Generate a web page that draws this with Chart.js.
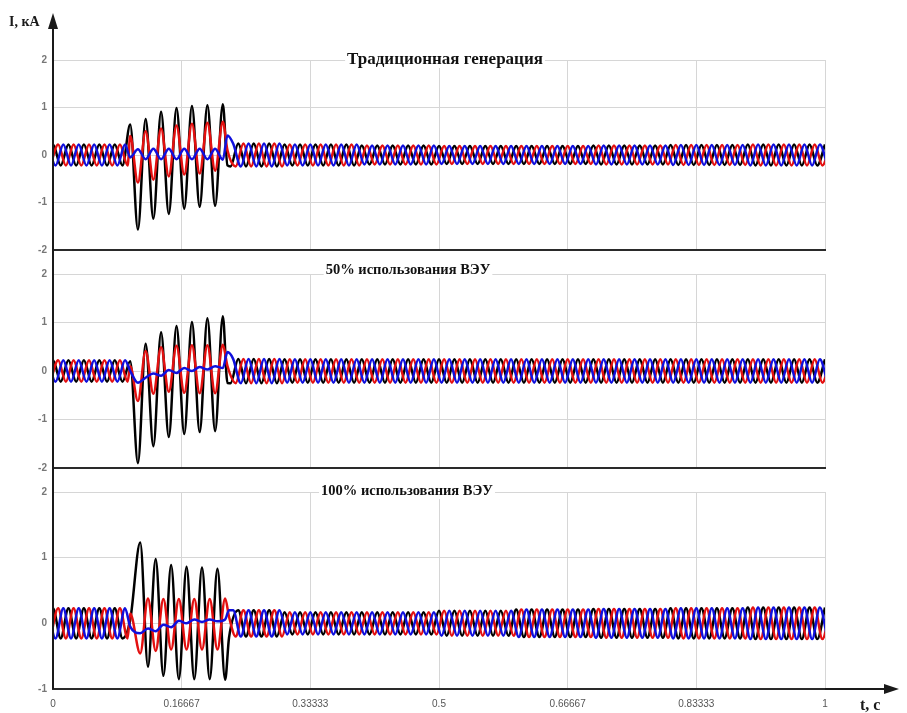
<!DOCTYPE html>
<html>
<head>
<meta charset="utf-8">
<script src="https://cdn.jsdelivr.net/npm/chart.js@4.4.1/dist/chart.umd.min.js"></script>
<style>
    html, body { margin: 0; padding: 0; background: #fff; }
    #wrap { position: relative; width: 907px; height: 713px; overflow: hidden; }
    #wrap canvas { position: absolute; left: 0; }
</style>
</head>
<body>
<div id="wrap">
    <canvas id="panel1" width="907" height="262" style="top:0px;width:907px;height:262px"></canvas>
    <canvas id="panel2" width="907" height="218" style="top:262px;width:907px;height:218px"></canvas>
    <canvas id="panel3" width="907" height="233" style="top:480px;width:907px;height:233px"></canvas>
</div>
<script>
// time axis, s
const timeTicks = [0, 1 / 6, 1 / 3, 0.5, 2 / 3, 5 / 6, 1];
const timeTickLabels = ['0', '0.16667', '0.33333', '0.5', '0.66667', '0.83333', '1'];

// steady-state current amplitude (kA) in each 0.1 s interval
const steadyAmp1 = [0.22, 0.22, 0.24, 0.22, 0.20, 0.19, 0.19, 0.20, 0.21, 0.22];
const steadyAmp2 = [0.22, 0.22, 0.25, 0.24, 0.24, 0.24, 0.24, 0.24, 0.24, 0.24];
const steadyAmp3 = [0.23, 0.23, 0.20, 0.17, 0.17, 0.19, 0.21, 0.22, 0.23, 0.24];

// fault interval: extremum times (s) and phase currents at them (kA)
const faultTime1 = [0.1, 0.11, 0.12, 0.13, 0.14, 0.15, 0.16, 0.17, 0.18, 0.19, 0.20, 0.21, 0.22, 0.226];
const faultA1 = [0.64, -1.57, 0.76, -1.34, 0.91, -1.24, 0.99, -1.13, 1.03, -1.09, 1.05, -1.07, 1.07, -0.22];
const faultB1 = [0.40, -0.58, 0.50, -0.52, 0.56, -0.45, 0.62, -0.41, 0.66, -0.39, 0.68, -0.33, 0.70, 0.10];
const faultC1 = [-0.05, 0.12, -0.09, 0.13, -0.09, 0.13, -0.09, 0.13, -0.09, 0.13, -0.09, 0.13, -0.10, 0.41];

const faultTime2 = [0.1, 0.11, 0.12, 0.13, 0.14, 0.15, 0.16, 0.17, 0.18, 0.19, 0.20, 0.21, 0.22, 0.226];
const faultA2 = [0.20, -1.90, 0.56, -1.55, 0.80, -1.36, 0.93, -1.30, 1.01, -1.26, 1.09, -1.24, 1.13, -0.25];
const faultB2 = [0.10, -0.62, 0.41, -0.47, 0.49, -0.43, 0.52, -0.45, 0.53, -0.46, 0.53, -0.46, 0.54, 0.10];
const faultC2 = [0.00, -0.24, -0.14, -0.05, -0.10, 0.02, -0.04, 0.06, 0.00, 0.08, 0.03, 0.10, 0.06, 0.39];

const faultTime3 = [0.1, 0.113, 0.123, 0.133, 0.143, 0.153, 0.163, 0.173, 0.183, 0.193, 0.203, 0.213, 0.223, 0.228];
const faultA3 = [0.05, 1.23, -0.66, 0.98, -0.80, 0.89, -0.85, 0.86, -0.85, 0.85, -0.85, 0.83, -0.86, -0.22];
const faultB3 = [0.15, -0.46, 0.38, -0.42, 0.37, -0.40, 0.37, -0.40, 0.37, -0.40, 0.37, -0.40, 0.38, 0.10];
const faultC3 = [-0.05, -0.15, -0.08, -0.12, -0.02, -0.06, 0.04, 0.00, 0.06, 0.02, 0.06, 0.03, 0.06, 0.20];

const panelTitles = ['Традиционная генерация', '50% использования ВЭУ', '100% использования ВЭУ'];

const HALF_PERIOD = 0.01;                 // 50 Hz
const phaseShift = [0, 0.02 / 3, 0.01 / 3];
const phaseSign = [1, 1, -1];
const phaseColors = ['#000000', '#e31010', '#1010dd'];

// extrema of one phase: steady half-cycles around the fault window, fault extrema inside it
function buildPhase(k, amp, faultTime, faultVals) {
    const from = faultTime[0] - 0.003;
    const to = faultTime[faultTime.length - 1] + 0.003;
    const before = [], after = [];
    for (let n = -1; n <= 100; n++) {
        const t = n * HALF_PERIOD + phaseShift[k];
        const seg = Math.min(amp.length - 1, Math.max(0, Math.floor(t * 10)));
        const y = phaseSign[k] * (n % 2 === 0 ? 1 : -1) * amp[seg];
        if (t <= from) before.push({ x: t, y });
        else if (t >= to) after.push({ x: t, y });
    }
    const fault = faultTime.map((t, i) => ({ x: t, y: faultVals[i] }));
    return before.concat(fault, after);
}

const panelDecor = {
    id: 'panelDecor',
    afterDraw(chart, args, o) {
        const { ctx, chartArea: a } = chart;
        ctx.save();
        ctx.strokeStyle = '#1a1a1a';
        ctx.fillStyle = '#1a1a1a';
        ctx.lineWidth = 2;

        // current axis runs through the whole column of panels
        const top = o.yArrow ? 27 : 0;
        const bottom = o.xArrow ? a.bottom : chart.height;
        ctx.beginPath();
        ctx.moveTo(a.left, top);
        ctx.lineTo(a.left, bottom);
        ctx.stroke();

        if (o.yArrow) {
            ctx.beginPath();
            ctx.moveTo(a.left, 13);
            ctx.lineTo(a.left - 5, 29);
            ctx.lineTo(a.left + 5, 29);
            ctx.closePath();
            ctx.fill();
            ctx.font = 'bold 14px "Liberation Serif"';
            ctx.textAlign = 'left';
            ctx.textBaseline = 'middle';
            ctx.fillText('I, кА', 9, 22);
        }

        if (o.xArrow) {
            ctx.beginPath();
            ctx.moveTo(a.right, a.bottom);
            ctx.lineTo(886, a.bottom);
            ctx.stroke();
            ctx.beginPath();
            ctx.moveTo(899, a.bottom);
            ctx.lineTo(884, a.bottom - 5);
            ctx.lineTo(884, a.bottom + 5);
            ctx.closePath();
            ctx.fill();
            ctx.font = 'bold 16px "Liberation Serif"';
            ctx.textAlign = 'left';
            ctx.textBaseline = 'middle';
            ctx.fillText('t, c', 860, 226);
        }

        // panel caption on a white patch over the top grid line
        ctx.font = 'bold ' + o.titleSize + 'px "Liberation Serif"';
        ctx.textAlign = 'center';
        ctx.textBaseline = 'middle';
        const w = ctx.measureText(o.title).width;
        ctx.fillStyle = '#fff';
        ctx.fillRect(o.titleX - w / 2 - 2, o.titleY - 8, w + 4, 16);
        ctx.fillStyle = '#111';
        ctx.fillText(o.title, o.titleX, o.titleY);
        ctx.restore();
    }
};

function makePanel(id, cfg) {
    const datasets = [cfg.a, cfg.b, cfg.c].map((vals, k) => ({
        data: buildPhase(k, cfg.amp, cfg.faultTime, vals),
        borderColor: phaseColors[k],
        borderWidth: 2.5,
        pointRadius: 0,
        fill: false,
        cubicInterpolationMode: 'monotone',
        order: 2 - k
    }));

    return new Chart(document.getElementById(id), {
        type: 'line',
        data: { datasets },
        plugins: [panelDecor],
        options: {
            responsive: false,
            animation: false,
            events: [],
            layout: { padding: { top: cfg.padTop, right: 82, bottom: 0, left: 0 } },
            plugins: {
                legend: { display: false },
                tooltip: { enabled: false },
                panelDecor: {
                    title: cfg.title, titleX: cfg.titleX, titleY: cfg.titleY, titleSize: cfg.titleSize,
                    yArrow: cfg.yArrow, xArrow: cfg.xArrow
                }
            },
            scales: {
                x: {
                    type: 'linear',
                    min: 0,
                    max: 1,
                    afterBuildTicks: (scale) => { scale.ticks = timeTicks.map(v => ({ value: v })); },
                    afterFit: (scale) => { scale.height = cfg.xAxisH; },
                    grid: { color: '#d6d6d6', lineWidth: 1, drawTicks: false },
                    border: { display: true, color: '#2a2a2a', width: 2 },
                    ticks: {
                        display: cfg.xArrow,
                        autoSkip: false,
                        maxRotation: 0,
                        padding: 9,
                        color: '#555',
                        font: { family: 'Liberation Sans', size: 10 },
                        callback: (value, index) => timeTickLabels[index]
                    }
                },
                y: {
                    min: cfg.yMin,
                    max: 2,
                    afterFit: (scale) => { scale.width = 53; },
                    grid: { color: '#d6d6d6', lineWidth: 1, drawTicks: false },
                    border: { display: false },
                    ticks: {
                        stepSize: 1,
                        padding: 6,
                        color: '#777',
                        font: { family: 'Liberation Sans', size: 10, weight: 'bold' }
                    }
                }
            }
        }
    });
}

makePanel('panel1', {
    amp: steadyAmp1, faultTime: faultTime1, a: faultA1, b: faultB1, c: faultC1,
    yMin: -2, padTop: 60, xAxisH: 10,
    title: panelTitles[0], titleX: 445, titleY: 60, titleSize: 17, yArrow: true, xArrow: false
});
makePanel('panel2', {
    amp: steadyAmp2, faultTime: faultTime2, a: faultA2, b: faultB2, c: faultC2,
    yMin: -2, padTop: 11, xAxisH: 12,
    title: panelTitles[1], titleX: 408, titleY: 8, titleSize: 14.5, yArrow: false, xArrow: false
});
makePanel('panel3', {
    amp: steadyAmp3, faultTime: faultTime3, a: faultA3, b: faultB3, c: faultC3,
    yMin: -1, padTop: 12, xAxisH: 24,
    title: panelTitles[2], titleX: 407, titleY: 11, titleSize: 14.5, yArrow: false, xArrow: true
});
</script>
</body>
</html>
